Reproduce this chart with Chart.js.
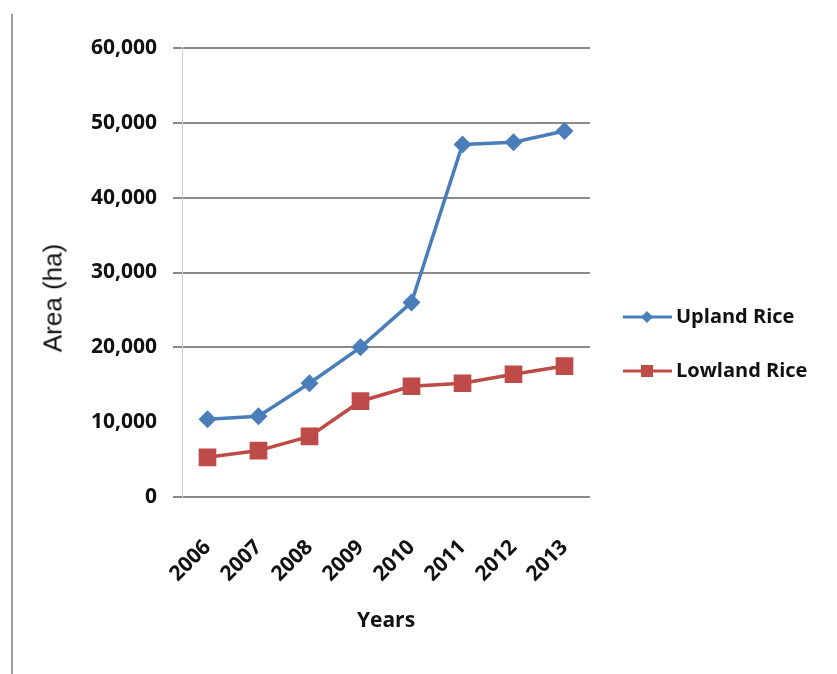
<!DOCTYPE html>
<html>
<head>
<meta charset="utf-8">
<script src="https://cdn.jsdelivr.net/npm/chart.js@4/dist/chart.umd.min.js"></script>
<style>
  body { margin: 0; background: #fff; }
  #wrap { position: relative; width: 837px; height: 674px; }
  #frame { position: absolute; left: 11px; top: 14px; width: 2px; height: 660px; background: #a0a0a0; }
  #yTitle {
    position: absolute; left: 53px; top: 298px;
    transform: translate(-50%, -50%) rotate(-90deg);
    font: 26px "Liberation Sans", Arial, sans-serif; color: #111; white-space: nowrap;
  }
</style>
</head>
<body>
<div id="wrap">
  <div id="frame"></div>
  <canvas id="riceChart"></canvas>
  <div id="yTitle">Area (ha)</div>
</div>
<script>
const years = ['2006', '2007', '2008', '2009', '2010', '2011', '2012', '2013'];
const uplandRice = [10400, 10800, 15200, 20000, 26000, 47100, 47400, 48900];
const lowlandRice = [5300, 6200, 8100, 12800, 14800, 15200, 16400, 17500];
const seriesNames = ['Upland Rice', 'Lowland Rice'];

const blue = '#4a7ebb';
const red = '#be4b48';
const labelFont = { family: 'Open Sans', size: 21, weight: '700' };

// légende dessinée à la main (ligne + marqueur, comme Excel)
const sideLegend = {
  id: 'sideLegend',
  afterDraw(chart) {
    const ctx = chart.ctx;
    const items = [
      { name: seriesNames[0], color: blue, shape: 'diamond', y: 317 },
      { name: seriesNames[1], color: red, shape: 'square', y: 371 }
    ];
    ctx.save();
    items.forEach(it => {
      ctx.strokeStyle = it.color;
      ctx.fillStyle = it.color;
      ctx.lineWidth = 3;
      ctx.beginPath();
      ctx.moveTo(623, it.y);
      ctx.lineTo(672, it.y);
      ctx.stroke();
      ctx.beginPath();
      if (it.shape === 'diamond') {
        ctx.moveTo(647, it.y - 6);
        ctx.lineTo(653, it.y);
        ctx.lineTo(647, it.y + 6);
        ctx.lineTo(641, it.y);
        ctx.closePath();
        ctx.fill();
      } else {
        ctx.fillRect(641, it.y - 6, 12, 12);
      }
      ctx.fillStyle = '#111';
      ctx.font = '700 20px "Open Sans"';
      ctx.textBaseline = 'middle';
      ctx.fillText(it.name, 676, it.y);
    });
    ctx.restore();
  }
};

new Chart(document.getElementById('riceChart'), {
  type: 'line',
  data: {
    labels: years,
    datasets: [
      {
        label: seriesNames[0],
        data: uplandRice,
        borderColor: blue,
        backgroundColor: blue,
        borderWidth: 3.5,
        pointStyle: 'rectRot',
        pointRadius: 9,
        pointBorderWidth: 0,
        tension: 0
      },
      {
        label: seriesNames[1],
        data: lowlandRice,
        borderColor: red,
        backgroundColor: red,
        borderWidth: 3.5,
        pointStyle: 'rect',
        pointRadius: 12.5,
        pointBorderWidth: 0,
        tension: 0
      }
    ]
  },
  options: {
    responsive: true,
    maintainAspectRatio: false,
    animation: false,
    layout: { padding: { left: 0, right: 247, top: 48, bottom: 36 } },
    plugins: {
      legend: { display: false },
      tooltip: { enabled: false }
    },
    scales: {
      x: {
        offset: true,
        afterFit: (scale) => { scale.height = 141; },
        grid: { display: false, drawTicks: false },
        border: { display: false },
        ticks: {
          color: '#111',
          font: labelFont,
          minRotation: 45,
          maxRotation: 45,
          padding: 38
        },
        title: {
          display: true,
          text: 'Years',
          color: '#111',
          font: { family: 'Open Sans', size: 21, weight: '700' },
          padding: { top: 4, bottom: 4 }
        }
      },
      y: {
        min: 0,
        max: 60000,
        afterFit: (scale) => { scale.width = 182; },
        border: { color: '#cfcfcf', width: 1 },
        grid: {
          color: (c) => (c.tick && c.tick.value === 10000 ? 'rgba(0,0,0,0)' : '#8a8a8a'),
          lineWidth: 2,
          tickLength: 9
        },
        ticks: {
          stepSize: 10000,
          color: '#111',
          font: labelFont,
          padding: 16,
          callback: (v) => v.toLocaleString('en-US')
        }
      }
    }
  },
  plugins: [sideLegend]
});
</script>
</body>
</html>
